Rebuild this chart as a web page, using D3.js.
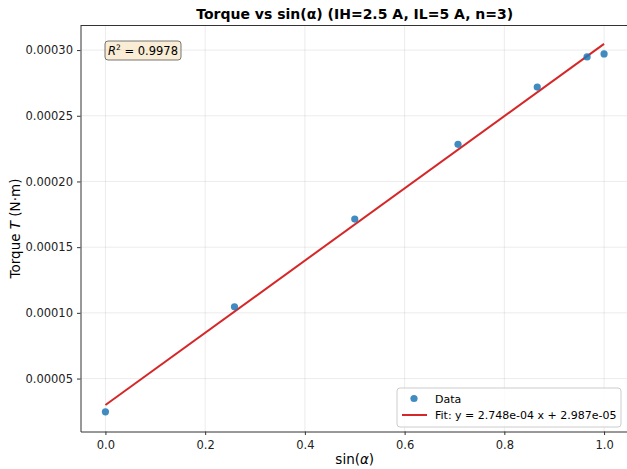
<!DOCTYPE html>
<html>
<head>
<meta charset="utf-8">
<script src="https://cdn.jsdelivr.net/npm/d3@7"></script>
<style>
  body { margin: 0; background: #fff; }
  svg { display: block; font-family: "DejaVu Sans", sans-serif; }
</style>
</head>
<body>
<div id="chart"></div>
<script>
// data
const sinAlpha = [0, 0.2588, 0.5, 0.7071, 0.866, 0.9659, 1.0];
const torque = [0.0000247, 0.0001046, 0.0001714, 0.0002283, 0.0002718, 0.0002948, 0.0002971];
const fitSlope = 2.748e-4;
const fitIntercept = 2.987e-5;
const rSquared = "0.9978";
const xTicks = [0.0, 0.2, 0.4, 0.6, 0.8, 1.0];
const yTicks = [0.00005, 0.00010, 0.00015, 0.00020, 0.00025, 0.00030];

const width = 627, height = 469;
const margin = { top: 25.5, right: -2, bottom: 37.5, left: 80.5 };

const svg = d3.select('#chart').append('svg')
    .attr('width', width)
    .attr('height', height);

const x = d3.scaleLinear().domain([-0.05, 1.05]).range([margin.left, width - margin.right]);
const y = d3.scaleLinear().domain([0.0000097, 0.0003187]).range([height - margin.bottom, margin.top]);

// grid
const grid = svg.append('g');
grid.selectAll('.gx').data(xTicks).enter().append('line')
    .attr('x1', d => x(d)).attr('x2', d => x(d))
    .attr('y1', margin.top).attr('y2', height - margin.bottom)
    .attr('stroke', '#b0b0b0').attr('stroke-opacity', 0.3).attr('stroke-width', 0.8);
grid.selectAll('.gy').data(yTicks).enter().append('line')
    .attr('x1', margin.left).attr('x2', width - margin.right)
    .attr('y1', d => y(d)).attr('y2', d => y(d))
    .attr('stroke', '#b0b0b0').attr('stroke-opacity', 0.3).attr('stroke-width', 0.8);

// axes
const xAxis = svg.append('g')
    .attr('transform', `translate(0,${height - margin.bottom})`)
    .call(d3.axisBottom(x).tickValues(xTicks).tickFormat(d3.format('.1f')).tickSizeInner(3.5).tickSizeOuter(0).tickPadding(6));
const yAxis = svg.append('g')
    .attr('transform', `translate(${margin.left},0)`)
    .call(d3.axisLeft(y).tickValues(yTicks).tickFormat(d3.format('.5f')).tickSizeInner(3.5).tickSizeOuter(0).tickPadding(4));
[xAxis, yAxis].forEach(a => {
    a.selectAll('text').attr('font-size', '11.5px').attr('fill', '#222').attr('font-family', 'DejaVu Sans');
    a.selectAll('.tick line').attr('stroke', '#333');
    a.select('.domain').attr('stroke', '#333').attr('stroke-width', 1);
});

// top spine (right one falls outside the picture)
svg.append('line')
    .attr('x1', margin.left).attr('x2', width - margin.right)
    .attr('y1', margin.top).attr('y2', margin.top)
    .attr('stroke', '#333').attr('stroke-width', 1);

// fit line
svg.append('line')
    .attr('x1', x(0)).attr('y1', y(fitIntercept))
    .attr('x2', x(1)).attr('y2', y(fitSlope + fitIntercept))
    .attr('stroke', '#d62728').attr('stroke-width', 2);

// data points
svg.append('g').selectAll('circle')
    .data(sinAlpha.map((s, i) => [s, torque[i]]))
    .enter().append('circle')
    .attr('cx', d => x(d[0]))
    .attr('cy', d => y(d[1]))
    .attr('r', 3.6)
    .attr('fill', '#1f77b4').attr('fill-opacity', 0.85);

// title and labels
svg.append('text')
    .attr('x', (margin.left + width - margin.right) / 2).attr('y', 19)
    .attr('text-anchor', 'middle').attr('font-size', '14px').attr('font-weight', 'bold')
    .text('Torque vs sin(α) (IH=2.5 A, IL=5 A, n=3)');

const xl = svg.append('text')
    .attr('x', (margin.left + width - margin.right) / 2).attr('y', 464)
    .attr('text-anchor', 'middle').attr('font-size', '13.5px');
xl.append('tspan').text('sin(');
xl.append('tspan').attr('font-style', 'italic').text('α');
xl.append('tspan').text(')');

const yl = svg.append('text')
    .attr('transform', `translate(20,${(margin.top + height - margin.bottom) / 2}) rotate(-90)`)
    .attr('text-anchor', 'middle').attr('font-size', '13.5px');
yl.append('tspan').text('Torque ');
yl.append('tspan').attr('font-style', 'italic').text('T');
yl.append('tspan').text(' (N·m)');

// R^2 box
const rbox = svg.append('g').attr('transform', 'translate(105,41)');
rbox.append('rect')
    .attr('width', 76).attr('height', 19).attr('rx', 3)
    .attr('fill', '#f5deb3').attr('fill-opacity', 0.55)
    .attr('stroke', '#555').attr('stroke-opacity', 0.8).attr('stroke-width', 1);
const rt = rbox.append('text').attr('x', 38).attr('y', 13.5)
    .attr('text-anchor', 'middle').attr('font-size', '11.5px');
rt.append('tspan').attr('font-style', 'italic').text('R');
rt.append('tspan').attr('font-size', '7.5px').attr('dy', -4.5).text('2');
rt.append('tspan').attr('dy', 4.5).text(' = ' + rSquared);

// legend
const lg = svg.append('g').attr('transform', 'translate(397,388)');
lg.append('rect')
    .attr('width', 224).attr('height', 39).attr('rx', 3)
    .attr('fill', '#fff').attr('fill-opacity', 0.8)
    .attr('stroke', '#ccc').attr('stroke-width', 1);
lg.append('circle').attr('cx', 17).attr('cy', 10.5).attr('r', 3.6)
    .attr('fill', '#1f77b4').attr('fill-opacity', 0.85);
lg.append('text').attr('x', 38).attr('y', 14.5).attr('font-size', '11px').text('Data');
lg.append('line').attr('x1', 5).attr('x2', 30).attr('y1', 27).attr('y2', 27)
    .attr('stroke', '#d62728').attr('stroke-width', 2);
lg.append('text').attr('x', 38).attr('y', 31).attr('font-size', '11px')
    .text(`Fit: y = ${fitSlope.toExponential(3).replace('e-4', 'e-04')} x + ${fitIntercept.toExponential(3).replace('e-5', 'e-05')}`);
</script>
</body>
</html>
